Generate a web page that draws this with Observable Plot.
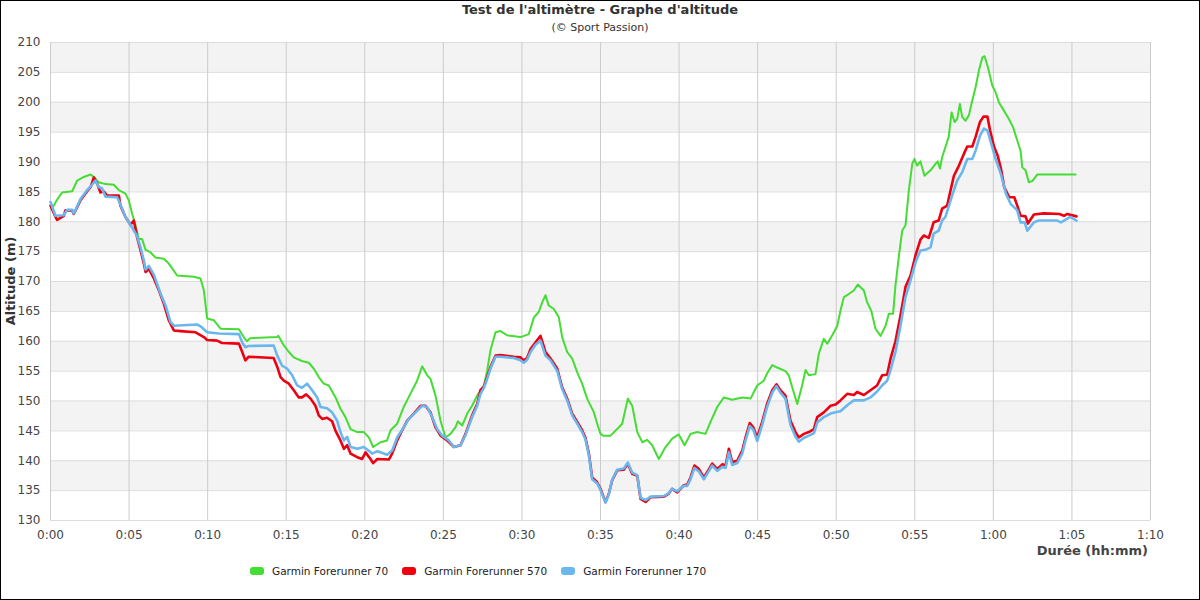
<!DOCTYPE html>
<html>
<head>
<meta charset="utf-8">
<script src="https://cdn.jsdelivr.net/npm/d3@7"></script>
<script src="https://cdn.jsdelivr.net/npm/@observablehq/plot@0.6"></script>
<style>
  html, body { margin:0; padding:0; background:#fff; }
  #wrap { position:relative; width:1200px; height:600px; overflow:hidden; font-family:"DejaVu Sans", sans-serif; }
  #wrap svg { position:absolute; left:0; top:0; }
  .title { position:absolute; left:0; width:1200px; text-align:center; top:2px; font-size:13px; font-weight:bold; color:#333; }
  .subtitle { position:absolute; left:0; width:1200px; text-align:center; top:21px; font-size:11px; color:#333; }
  .ylab { position:absolute; left:10px; top:281px; transform:translate(-50%,-50%) rotate(-90deg); font-size:13px; font-weight:bold; color:#333; white-space:nowrap; }
  .xlab { position:absolute; right:52px; top:543px; font-size:13px; font-weight:bold; color:#444; white-space:nowrap; }
  .legend { position:absolute; left:250px; top:565px; display:flex; align-items:center; font-size:10.5px; color:#222; }
  .item { display:flex; align-items:center; margin-right:14px; }
  .sw { width:14px; height:8px; border-radius:3px; margin-right:8px; }
  .border { position:absolute; left:0; top:0; width:1200px; height:600px; box-sizing:border-box; border:1px solid #000; pointer-events:none; }
</style>
</head>
<body>
<div id="wrap">
  <div class="title">Test de l'altimètre - Graphe d'altitude</div>
  <div class="subtitle">(© Sport Passion)</div>
  <div class="ylab">Altitude (m)</div>
  <div class="xlab">Durée (hh:mm)</div>
  <div class="legend" id="legend"></div>
  <div class="border"></div>
</div>
<script>
const seriesNames = ["Garmin Forerunner 70", "Garmin Forerunner 570", "Garmin Forerunner 170"];
const seriesColors = ["#44dd33", "#ee0011", "#6ab7ef"];

const xTicks = [0,5,10,15,20,25,30,35,40,45,50,55,60,65,70];
const xTickLabels = ["0:00","0:05","0:10","0:15","0:20","0:25","0:30","0:35","0:40","0:45","0:50","0:55","1:00","1:05","1:10"];
const yTicks = [130,135,140,145,150,155,160,165,170,175,180,185,190,195,200,205,210];
const bandStarts = [135,145,155,165,175,185,195,205];

// [minutes, altitude m]
const fr70 = [
[0.1,182.2],[0.45,183.8],[0.74,184.9],[1.38,185.1],[1.7,186.9],[2.12,187.5],[2.55,187.9],[2.76,187.5],[3.07,186.6],[3.5,186.3],
[4.03,186.2],[4.35,185.3],[4.77,184.7],[4.98,183.6],[5.2,181.3],[5.41,179.4],[5.62,177.1],[5.83,177.1],[6.05,175.3],[6.36,174.9],
[6.68,174.0],[7.21,173.8],[7.53,173.0],[8.06,171.0],[9.12,170.8],[9.55,170.5],[9.76,168.5],[9.97,163.8],[10.4,163.5],[10.82,162.1],
[11.99,162.0],[12.3,160.7],[12.5,160.0],[12.7,160.5],[14.4,160.7],[14.5,160.9],[14.85,159.3],[15.17,158.2],[15.48,157.3],[16.0,156.7],
[16.44,156.4],[16.76,155.4],[17.07,154.0],[17.39,152.9],[17.71,152.6],[18.14,150.6],[18.45,148.7],[18.77,147.3],[19.09,145.3],[19.52,144.8],
[19.94,144.8],[20.26,143.9],[20.53,142.3],[21.0,143.1],[21.42,143.4],[21.64,145.1],[22.06,146.2],[22.48,149.0],[22.9,151.2],[23.33,153.4],
[23.65,155.8],[23.97,154.3],[24.18,153.7],[24.5,150.9],[24.82,146.7],[25.14,143.9],[25.45,144.5],[25.77,145.6],[25.92,146.6],[26.2,145.9],
[26.52,147.9],[26.83,149.2],[27.15,150.9],[27.58,152.6],[27.79,155.1],[28.0,158.5],[28.32,161.5],[28.64,161.7],[29.06,161.0],[29.91,160.7],
[30.44,161.2],[30.76,164.0],[31.07,164.9],[31.29,166.5],[31.5,167.7],[31.7,166.0],[32.03,165.4],[32.35,164.0],[32.56,160.7],[32.88,158.2],
[33.2,157.1],[33.52,154.8],[33.83,152.9],[34.15,150.4],[34.58,148.1],[34.79,146.2],[35.0,144.5],[35.17,144.2],[35.64,144.2],[36.06,145.3],
[36.38,146.2],[36.74,150.4],[37.02,149.2],[37.34,144.8],[37.66,143.1],[37.97,143.5],[38.29,142.6],[38.71,140.3],[39.14,142.3],[39.56,143.7],
[39.98,144.4],[40.35,142.6],[40.73,144.5],[41.15,144.8],[41.68,144.5],[42.0,146.5],[42.43,149.0],[42.85,150.6],[43.38,150.2],[44.02,150.6],
[44.55,150.4],[44.97,152.6],[45.39,153.4],[45.6,154.6],[45.93,156.0],[46.24,155.6],[46.77,155.0],[46.98,154.3],[47.2,152.3],[47.52,149.5],
[47.83,152.6],[48.05,155.2],[48.26,154.3],[48.68,154.5],[48.89,157.9],[49.21,160.4],[49.43,159.6],[49.75,161.0],[50.07,162.6],[50.27,165.1],
[50.49,167.4],[50.8,167.9],[51.12,168.5],[51.37,169.5],[51.76,168.5],[51.97,166.5],[52.23,165.1],[52.5,162.1],[52.82,160.9],[53.14,162.6],
[53.35,164.6],[53.62,164.6],[53.77,169.3],[53.99,174.3],[54.2,178.5],[54.41,179.4],[54.62,185.2],[54.84,189.7],[54.98,190.5],[55.15,189.4],
[55.36,190.1],[55.62,187.7],[56.0,188.6],[56.32,189.7],[56.46,190.1],[56.6,188.9],[56.74,190.8],[56.95,192.5],[57.16,194.2],[57.34,198.3],
[57.53,196.7],[57.7,197.2],[57.87,199.7],[58.02,197.5],[58.23,196.9],[58.44,197.8],[58.66,200.3],[58.87,202.5],[59.08,205.3],[59.3,207.5],
[59.44,207.7],[59.65,205.9],[59.93,202.8],[60.14,201.7],[60.35,200.0],[60.67,198.6],[60.99,197.2],[61.26,195.8],[61.52,193.6],[61.73,191.9],
[61.84,189.1],[62.05,188.6],[62.26,186.6],[62.48,186.8],[62.79,187.9],[65.23,187.9]
];

const fr570 = [
[0,182.7],[0.32,180.8],[0.42,180.3],[0.85,181.0],[0.95,181.9],[1.38,181.9],[1.48,181.3],[1.6,181.9],[1.91,183.6],[2.33,185.1],
[2.55,185.8],[2.76,187.4],[2.97,186.4],[3.18,184.9],[3.39,185.1],[3.6,184.4],[4.35,184.4],[4.45,182.7],[4.77,180.8],[5.09,179.5],
[5.3,180.2],[5.51,177.4],[5.73,175.2],[5.94,173.0],[6.05,171.6],[6.26,172.1],[6.58,170.5],[6.9,168.5],[7.21,166.3],[7.53,163.5],
[7.85,161.8],[8.27,161.7],[9.23,161.5],[9.76,160.7],[9.97,160.2],[10.6,160.1],[10.92,159.7],[11.99,159.6],[12.2,158.2],[12.4,156.8],
[12.6,157.4],[14.2,157.2],[14.43,155.7],[14.64,154.0],[14.85,153.4],[15.17,152.9],[15.48,151.8],[15.8,150.6],[16.0,150.6],[16.27,151.1],
[16.55,150.4],[16.86,149.2],[17.07,147.6],[17.29,147.0],[17.6,147.2],[17.92,146.6],[18.14,145.0],[18.45,143.4],[18.67,142.0],[18.88,142.6],
[19.09,141.2],[19.52,140.6],[19.83,140.3],[20.05,141.4],[20.36,140.3],[20.53,139.6],[20.8,140.3],[21.53,140.2],[21.74,141.2],[22.06,143.4],
[22.38,145.1],[22.7,146.7],[23.12,147.9],[23.55,149.2],[23.86,149.2],[24.18,148.1],[24.5,145.6],[24.82,144.2],[25.24,143.4],[25.67,142.3],
[26.09,142.6],[26.41,144.5],[26.83,147.6],[27.15,149.5],[27.36,151.8],[27.58,152.4],[27.79,154.0],[28.0,155.7],[28.32,157.6],[28.64,157.7],
[29.49,157.4],[29.91,157.3],[30.12,156.8],[30.33,157.2],[30.55,158.7],[30.86,159.8],[31.18,160.9],[31.5,158.2],[31.82,157.1],[32.25,155.4],
[32.56,152.3],[32.88,150.4],[33.2,147.9],[33.52,146.5],[33.83,145.1],[34.04,143.9],[34.26,141.2],[34.47,137.2],[34.79,136.4],[35.0,135.3],
[35.32,133.1],[35.53,134.5],[35.74,136.7],[36.06,138.4],[36.48,138.5],[36.74,139.5],[37.02,137.8],[37.34,137.5],[37.55,133.6],[37.87,133.1],
[38.18,133.9],[39.03,134.0],[39.35,134.5],[39.56,135.3],[39.88,134.7],[40.3,135.9],[40.52,136.0],[40.73,137.2],[40.98,139.2],[41.26,138.6],
[41.58,137.2],[41.79,138.1],[42.11,139.5],[42.43,138.6],[42.75,139.4],[42.96,139.2],[43.17,142.0],[43.38,139.8],[43.7,140.0],[44.02,141.7],
[44.23,143.9],[44.5,146.3],[44.72,145.6],[44.97,143.9],[45.29,146.5],[45.6,149.5],[45.93,151.8],[46.2,152.8],[46.45,151.8],[46.77,150.9],
[47.09,146.7],[47.41,144.8],[47.62,143.9],[47.94,144.5],[48.26,144.8],[48.58,145.3],[48.79,147.3],[49.21,148.1],[49.64,149.2],[49.96,149.4],
[50.27,150.1],[50.7,151.2],[51.12,151.0],[51.33,151.5],[51.76,151.0],[52.18,151.8],[52.6,152.6],[52.92,154.3],[53.24,154.4],[53.45,157.0],
[53.77,160.0],[54.09,164.3],[54.41,169.1],[54.73,171.0],[55.05,174.4],[55.36,177.0],[55.57,177.7],[55.89,177.3],[56.2,179.9],[56.52,180.2],
[56.74,182.2],[57.06,182.7],[57.27,185.2],[57.49,187.7],[57.81,189.4],[58.13,191.4],[58.34,192.6],[58.66,192.6],[58.87,194.2],[59.15,196.7],
[59.37,197.6],[59.62,197.6],[59.79,195.3],[60.05,192.5],[60.27,191.1],[60.48,188.9],[60.69,185.8],[61.01,184.1],[61.33,184.1],[61.52,182.7],
[61.73,181.0],[62.05,180.9],[62.2,179.7],[62.58,181.2],[63.21,181.4],[64.2,181.3],[64.5,181.0],[64.7,181.3],[65.29,180.9]
];

const fr170 = [
[0,183.3],[0.32,181.0],[0.85,181.1],[1.06,182.0],[1.38,182.0],[1.48,181.4],[1.6,182.0],[1.91,183.8],[2.33,185.3],[2.55,185.9],
[2.86,186.9],[3.07,185.8],[3.28,185.6],[3.5,184.2],[4.24,184.1],[4.35,183.5],[4.77,180.8],[5.09,179.5],[5.51,177.6],[5.73,175.7],
[5.94,173.5],[6.05,172.0],[6.26,172.6],[6.58,171.1],[7.0,168.0],[7.32,166.0],[7.64,163.2],[7.85,162.6],[9.33,162.8],[9.55,162.5],
[9.97,161.5],[10.71,161.3],[11.99,161.2],[12.2,159.8],[12.4,159.0],[12.6,159.2],[14.2,159.3],[14.43,157.6],[14.74,155.9],[15.06,155.4],
[15.38,154.3],[15.7,152.6],[16.0,152.2],[16.33,152.9],[16.65,151.8],[16.97,150.6],[17.18,149.0],[17.6,148.8],[17.92,148.1],[18.24,146.7],
[18.45,144.8],[18.67,143.4],[18.88,144.0],[19.09,142.3],[19.52,142.0],[19.94,142.3],[20.47,141.2],[20.8,141.6],[21.42,141.0],[21.74,141.7],
[22.06,143.9],[22.48,145.6],[22.8,147.0],[23.23,148.1],[23.65,149.2],[23.97,149.0],[24.29,147.3],[24.6,145.3],[24.92,144.2],[25.35,143.4],
[25.67,142.3],[26.09,142.6],[26.41,144.3],[26.83,147.3],[27.15,149.2],[27.36,151.2],[27.58,152.2],[27.79,153.7],[28.0,155.4],[28.32,157.4],
[28.64,157.4],[29.49,157.2],[29.91,156.8],[30.12,156.4],[30.33,156.9],[30.55,158.2],[30.86,159.4],[31.18,160.1],[31.5,157.6],[31.82,156.8],
[32.25,155.0],[32.56,152.0],[32.88,150.1],[33.2,147.6],[33.52,146.2],[33.83,144.8],[34.04,143.6],[34.26,140.9],[34.47,136.9],[34.79,136.2],
[35.0,135.1],[35.32,133.0],[35.53,134.4],[35.74,136.8],[36.06,138.5],[36.48,138.7],[36.74,139.7],[37.02,138.0],[37.34,137.6],[37.55,133.8],
[37.87,133.4],[38.18,134.0],[39.03,134.1],[39.35,134.6],[39.56,135.3],[39.88,134.9],[40.3,135.8],[40.52,135.8],[40.73,136.9],[40.98,138.8],
[41.26,138.2],[41.58,136.9],[41.79,137.8],[42.11,139.2],[42.43,138.3],[42.75,139.0],[42.96,138.8],[43.17,141.4],[43.38,139.3],[43.7,139.6],
[44.02,141.2],[44.23,143.4],[44.5,145.8],[44.72,145.2],[44.97,143.3],[45.29,146.0],[45.6,149.0],[45.93,151.4],[46.2,152.5],[46.45,151.4],
[46.77,150.4],[47.09,146.0],[47.41,144.0],[47.62,143.2],[47.94,143.8],[48.26,144.2],[48.58,144.6],[48.79,146.4],[49.21,147.3],[49.64,147.9],
[49.96,148.1],[50.27,148.3],[50.7,149.3],[51.12,150.1],[51.76,150.1],[52.18,150.6],[52.6,151.6],[52.92,152.6],[53.24,153.4],[53.45,155.1],
[53.77,158.2],[54.09,162.6],[54.41,167.4],[54.73,170.2],[55.05,173.2],[55.36,175.2],[55.68,175.3],[56.0,175.7],[56.2,178.0],[56.52,178.5],
[56.74,180.2],[56.95,180.8],[57.38,184.4],[57.7,186.9],[58.02,188.3],[58.34,190.5],[58.66,190.5],[58.87,191.9],[59.15,194.4],[59.4,195.6],
[59.62,195.3],[59.93,192.5],[60.14,190.5],[60.48,188.0],[60.8,184.7],[61.1,183.0],[61.52,181.9],[61.73,179.9],[61.99,179.9],[62.16,178.5],
[62.58,179.9],[62.9,180.2],[64.07,180.2],[64.3,179.9],[64.9,180.8],[65.29,180.2]
];

const series = [fr70, fr570, fr170];
const widths = [2, 2.6, 2.6];

const chart = Plot.plot({
  width: 1200,
  height: 600,
  marginTop: 42,
  marginBottom: 80,
  marginLeft: 50,
  marginRight: 50,
  style: { fontFamily: "DejaVu Sans, sans-serif", fontSize: "12px", color: "#444", background: "transparent", overflow: "visible" },
  x: { domain: [0, 70] },
  y: { domain: [130, 210] },
  marks: [
    Plot.rect(bandStarts, { x1: 0, x2: 70, y1: d => d, y2: d => d + 5, fill: "#f3f3f3" }),
    Plot.ruleY(yTicks, { stroke: "#dddddd" }),
    Plot.ruleX(xTicks, { stroke: "#cccccc" }),
    Plot.axisX({ ticks: xTicks, tickFormat: d => xTickLabels[xTicks.indexOf(d)], tickSize: 0, tickPadding: 10, label: null, fill: "#444" }),
    Plot.axisY({ ticks: yTicks, tickSize: 0, tickPadding: 10, label: null, fill: "#444" }),
    ...series.map((s, i) => Plot.line(s, { x: d => d[0], y: d => d[1], stroke: seriesColors[i], strokeWidth: widths[i] }))
  ]
});
document.getElementById("wrap").prepend(chart);

const legend = document.getElementById("legend");
seriesNames.forEach((n, i) => {
  const it = document.createElement("div");
  it.className = "item";
  const sw = document.createElement("div");
  sw.className = "sw";
  sw.style.background = seriesColors[i];
  const tx = document.createElement("span");
  tx.textContent = n;
  it.appendChild(sw); it.appendChild(tx);
  legend.appendChild(it);
});
</script>
</body>
</html>
